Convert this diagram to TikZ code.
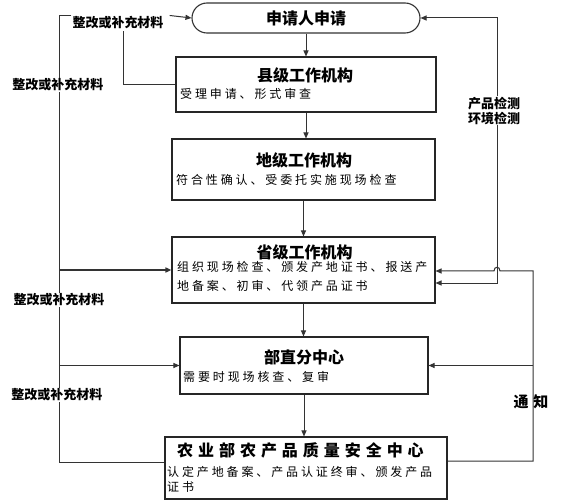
\documentclass[tikz,border=0pt]{standalone}
\usepackage{fontspec}
\usetikzlibrary{arrows.meta,calc}
\newfontfamily\cjk{Noto Sans CJK SC}
\newfontfamily\cjksub{Noto Sans CJK SC}[LetterSpace=24]
\newfontfamily\cjkwide{Noto Sans CJK SC}[LetterSpace=31]
\pgfdeclarelayer{bg}
\pgfsetlayers{bg,main}
\tikzset{
  ln/.style={draw=black!80, line width=1pt},
  arr/.style={-{Triangle[length=6pt,width=5pt]}},
  startbox/.style={draw=black!80, line width=1.1pt, rounded corners=15pt, minimum width=228pt, minimum height=30pt, inner sep=0pt, font={\cjk\bfseries\fontsize{16pt}{18pt}\selectfont}},
  box/.style={draw=black!85, line width=1.1pt, inner sep=0pt, fill=white},
  ttl/.style={inner sep=0pt, font={\cjk\bfseries\fontsize{16pt}{18pt}\selectfont}},
  sub/.style={inner sep=0pt, anchor=west, font={\cjksub\fontsize{12pt}{14pt}\selectfont}},
  lbl/.style={inner sep=1pt, font={\cjk\bfseries\fontsize{13pt}{15pt}\selectfont}},
}
\begin{document}
\begin{tikzpicture}[x=1pt,y=-1pt]
\useasboundingbox (0,0) rectangle (571,500);
% boxes
\node[startbox] (start) at (306,18) {申请人申请};
\node[box, minimum width=260pt, minimum height=55pt] (b1) at (306,84.5) {};
\node[box, minimum width=263pt, minimum height=61pt] (b2) at (303.5,169.5) {};
\node[box, minimum width=263pt, minimum height=66pt] (b3) at (303.5,270) {};
\node[box, minimum width=248pt, minimum height=57pt] (b4) at (304,365.5) {};
\node[box, minimum width=282pt, minimum height=62pt] (b5) at (306,468) {};
% texts in boxes
\node[ttl] (t1) at (305,75) {县级工作机构};
\node[sub] (s1) at (180,94) {受理申请、形式审查};
\node[ttl] (t2) at (304,160) {地级工作机构};
\node[sub] (s2) at (176,180) {符合性确认、受委托实施现场检查};
\node[ttl] (t3) at (304.5,252) {省级工作机构};
\node[sub] (s3a) at (177,267) {组织现场检查、颁发产地证书、报送产};
\node[sub] (s3b) at (177,286) {地备案、初审、代领产品证书};
\node[ttl] (t4) at (304,357) {部直分中心};
\node[sub] (s4) at (183,377) {需要时现场核查、复审};
\node[inner sep=0pt, anchor=west, font={\cjkwide\bfseries\fontsize{16pt}{18pt}\selectfont}] (t5) at (177,450) {农业部农产品质量安全中心};
\node[sub] (s5a) at (167,472) {认定产地备案、产品认证终审、颁发产品};
\node[sub] (s5b) at (167,487) {证书};
% labels
\node[lbl] (lblA) at (118,23) {整改或补充材料};
\node[lbl, fill=white] (lblB) at (58,85) {整改或补充材料};
\node[lbl, fill=white] (lblC) at (59,300) {整改或补充材料};
\node[lbl, fill=white] (lblD) at (57,395) {整改或补充材料};
\node[lbl, fill=white, align=center, font={\cjk\bfseries\fontsize{13pt}{15pt}\selectfont}] (lblE) at (494,110.5) {产品检测\\环境检测};
\node[inner sep=0pt, font={\cjk\bfseries\fontsize{15pt}{17pt}\selectfont}] (lblF) at (531,402) {通\hspace{5pt}知};
% coordinates
\coordinate (v1) at (123,0);
\coordinate (ml) at (59,270);
\coordinate (bl) at (59,462);
\coordinate (r1) at (497,283);
\coordinate (r2t) at (533,271);
\coordinate (r2b) at (533,461);
\begin{pgfonlayer}{bg}
\fill[white] (0,0) rectangle (571,500);
% main chain
\draw[ln,arr] (start.south) -- (b1.north);
\draw[ln,arr] (b1.south) -- (b1.south |- b2.north);
\draw[ln,arr] (b2.south) -- (b2.south |- b3.north);
\draw[ln,arr] (b3.south) -- (b3.south |- b4.north);
\draw[ln,arr] (b4.south) -- (b4.south |- b5.north);
% left side
\draw[ln] (b1.west) -| (lblA.south -| v1);
\draw[ln,arr] (lblA.north east) ++(5,0) -- (start.west);
\draw[ln] (lblA.north west) -| (ml);
\draw[ln, line width=1.8pt, arr] (ml) -- (b3.west);
\draw[ln] (ml) -- (bl) -- (bl -| b5.west);
\draw[ln,arr] (ml |- b4.west) -- (b4.west);
% right side
\draw[ln, {Triangle[length=6pt,width=5pt]}-{Triangle[length=6pt,width=5pt]}] (start.east) -| (r1) -- (r1 -| b3.east);
\draw[ln,arr] (r2b -| b5.east) -- (r2b) -- (r2t) -- ($(r1 |- r2t)+(3,0)$) .. controls +(0,-5) and +(0,-5) .. ($(r1 |- r2t)+(-3,0)$) -- (r2t -| b3.east);
\draw[ln,arr] (r2t |- b4.east) -- (b4.east);
\end{pgfonlayer}
\end{tikzpicture}
\end{document}
